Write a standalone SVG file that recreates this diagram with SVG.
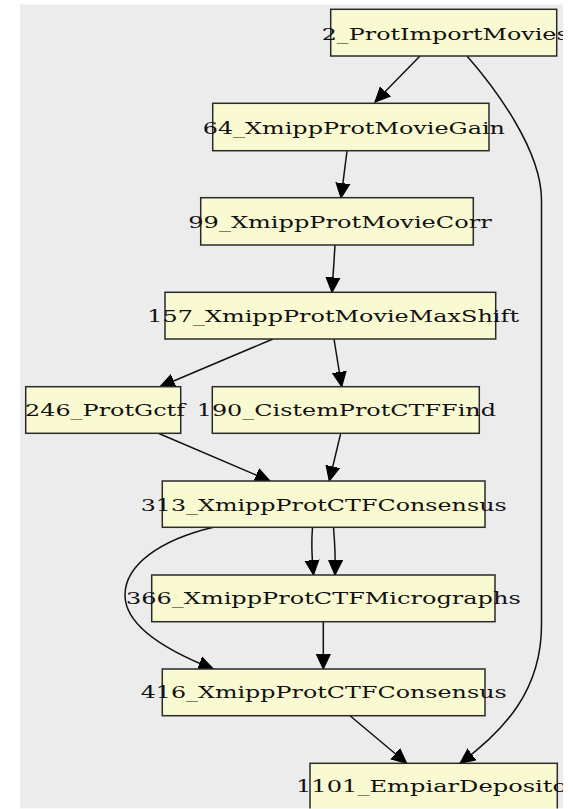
<svg xmlns="http://www.w3.org/2000/svg" width="573" height="809" viewBox="0 0 573 809">
  <defs>
    <style>
      .node rect { fill: #fafad2; stroke: #2a2a2a; stroke-width: 1.5; }
      .node text { font-family: "DejaVu Serif", "Liberation Serif", serif; font-size: 17.5px; fill: #111111; }
      .edges path { fill: none; stroke: #111111; stroke-width: 1.5; marker-end: url(#arrow); }
    </style>
    <marker id="arrow" markerUnits="userSpaceOnUse" markerWidth="16" markerHeight="16" refX="13" refY="6" orient="auto" viewBox="0 0 14 12">
      <path d="M0,0 L13,6 L0,12 Z" fill="#000000" stroke="#000000" stroke-width="1"/>
    </marker>
    <clipPath id="frame">
      <rect x="0" y="0" width="563" height="808.5"/>
    </clipPath>
  </defs>
  <rect x="0" y="0" width="573" height="809" fill="#ffffff"/>
  <g clip-path="url(#frame)">
    <rect x="20" y="4.5" width="543" height="804" fill="#ececec"/>

    <g class="edges" id="edges">
      <path d="M420,56 L375,102"/>
      <path d="M467,56 C495,88 541.5,150 541.5,200 L541.5,625 C541.5,690 505,730 460,763.3"/>
      <path d="M347,151 L341,198"/>
      <path d="M335,245 L332,292.3"/>
      <path d="M273,339 L160,386.7"/>
      <path d="M334,339 L341.7,386.7"/>
      <path d="M158.3,433.3 L270,481"/>
      <path d="M340.7,433.3 L329.3,481"/>
      <path d="M312.5,527.3 C311,545 312,560 313.5,575"/>
      <path d="M333.5,527.3 C335,545 335.5,560 335,575"/>
      <path d="M213.3,527.3 C160,540 125,565 125,595 C125,625 165,650 213.3,669"/>
      <path d="M323.3,621.7 L323.3,669"/>
      <path d="M350,715.7 L406.7,763.3"/>
    </g>

    <g class="node" id="n2">
      <rect x="330.7" y="9.3" width="226" height="46.7"/>
      <text x="321.7" y="39.5" textLength="247" lengthAdjust="spacingAndGlyphs">2_ProtImportMovies</text>
    </g>
    <g class="node" id="n64">
      <rect x="212.7" y="103.3" width="276.3" height="47.4"/>
      <text x="202.7" y="133.5" textLength="302.3" lengthAdjust="spacingAndGlyphs">64_XmippProtMovieGain</text>
    </g>
    <g class="node" id="n99">
      <rect x="200.7" y="197.7" width="272.6" height="47.3"/>
      <text x="188.3" y="227.5" textLength="303.4" lengthAdjust="spacingAndGlyphs">99_XmippProtMovieCorr</text>
    </g>
    <g class="node" id="n157">
      <rect x="165" y="292.3" width="330.7" height="46.7"/>
      <text x="147.3" y="322" textLength="371.7" lengthAdjust="spacingAndGlyphs">157_XmippProtMovieMaxShift</text>
    </g>
    <g class="node" id="n246">
      <rect x="25.7" y="386.7" width="155" height="46.6"/>
      <text x="25" y="416" textLength="160" lengthAdjust="spacingAndGlyphs">246_ProtGctf</text>
    </g>
    <g class="node" id="n190">
      <rect x="212.3" y="386.7" width="267" height="46.6"/>
      <text x="196.7" y="416" textLength="299.3" lengthAdjust="spacingAndGlyphs">190_CistemProtCTFFind</text>
    </g>
    <g class="node" id="n313">
      <rect x="162.3" y="481" width="322.7" height="46.3"/>
      <text x="140.7" y="510.6" textLength="366" lengthAdjust="spacingAndGlyphs">313_XmippProtCTFConsensus</text>
    </g>
    <g class="node" id="n366">
      <rect x="151.7" y="575" width="343.3" height="46.7"/>
      <text x="126" y="604" textLength="394.7" lengthAdjust="spacingAndGlyphs">366_XmippProtCTFMicrographs</text>
    </g>
    <g class="node" id="n416">
      <rect x="162.3" y="669" width="322.7" height="46.7"/>
      <text x="140.7" y="698" textLength="366" lengthAdjust="spacingAndGlyphs">416_XmippProtCTFConsensus</text>
    </g>
    <g class="node" id="n1101">
      <rect x="310" y="763.3" width="247.3" height="50"/>
      <text x="296" y="792" textLength="271" lengthAdjust="spacingAndGlyphs">1101_EmpiarDeposito</text>
    </g>
  </g>
</svg>
